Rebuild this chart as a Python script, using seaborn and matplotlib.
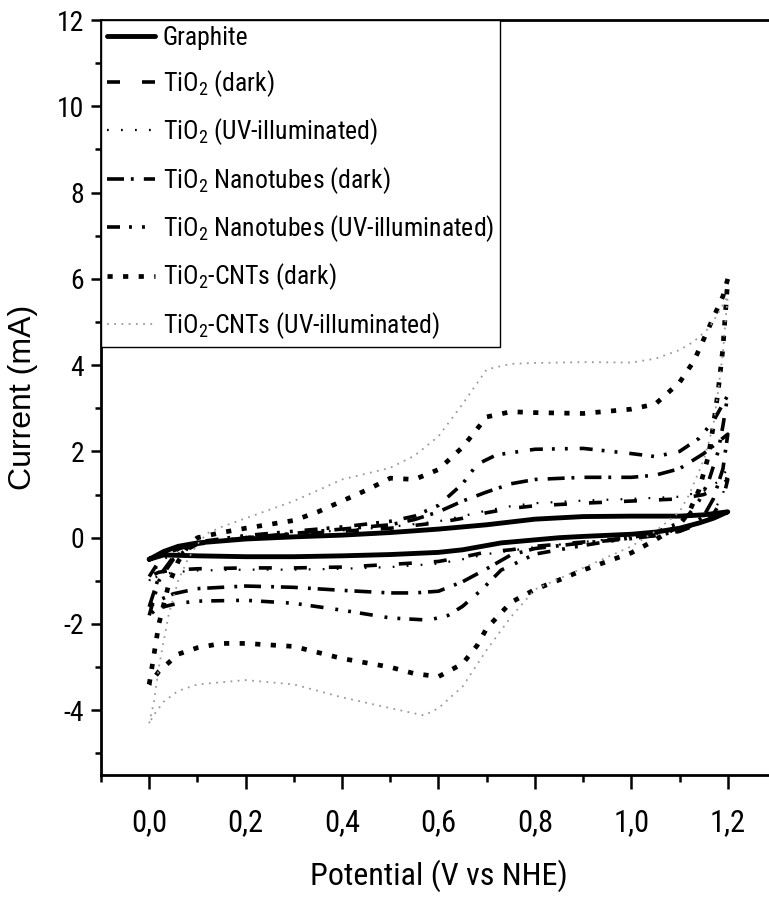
import numpy as np
import pandas as pd
import matplotlib
matplotlib.use("Agg")
import matplotlib.pyplot as plt
from matplotlib import font_manager as fm
from matplotlib.ticker import MultipleLocator, FixedLocator
import seaborn as sns

# ---------------- data ----------------
series_names = [
    "Graphite",
    "TiO$_2$ (dark)",
    "TiO$_2$ (UV-illuminated)",
    "TiO$_2$ Nanotubes (dark)",
    "TiO$_2$ Nanotubes (UV-illuminated)",
    "TiO$_2$-CNTs (dark)",
    "TiO$_2$-CNTs (UV-illuminated)",
]

graphite_v = [0.0, 0.03, 0.06, 0.1, 0.2, 0.3, 0.4, 0.5, 0.6, 0.7, 0.8, 0.9, 1.0, 1.1, 1.15, 1.2,
              1.17, 1.14, 1.1, 1.05, 1.0, 0.9, 0.85, 0.8, 0.73, 0.65, 0.6, 0.5, 0.4, 0.3, 0.2, 0.1, 0.03, 0.0]
graphite_i = [-0.5, -0.32, -0.2, -0.12, -0.03, 0.02, 0.06, 0.12, 0.2, 0.3, 0.43, 0.49, 0.5, 0.5, 0.53, 0.6,
              0.45, 0.34, 0.22, 0.13, 0.08, 0.03, 0.0, -0.05, -0.12, -0.28, -0.34, -0.39, -0.42, -0.44, -0.44, -0.42, -0.4, -0.5]

tio2_dark_v = [0.0, 0.02, 0.05, 0.1, 0.2, 0.3, 0.4, 0.5, 0.6, 0.65, 0.7, 0.75, 0.8, 0.9, 1.0, 1.1, 1.15, 1.18, 1.2,
               1.19, 1.17, 1.15, 1.1, 1.05, 1.0, 0.9, 0.8, 0.75, 0.7, 0.65, 0.6, 0.5, 0.4, 0.3, 0.2, 0.1, 0.05, 0.02, 0.0]
tio2_dark_i = [-0.9, -0.55, -0.3, -0.12, 0.0, 0.08, 0.15, 0.22, 0.35, 0.45, 0.58, 0.68, 0.74, 0.8, 0.85, 0.9, 1.0, 1.15, 1.35,
               0.9, 0.55, 0.35, 0.15, 0.05, 0.0, -0.1, -0.2, -0.28, -0.33, -0.45, -0.55, -0.62, -0.68, -0.7, -0.7, -0.72, -0.75, -0.8, -0.9]

tio2_uv_v = [0.0, 0.02, 0.05, 0.1, 0.2, 0.3, 0.4, 0.5, 0.6, 0.65, 0.7, 0.75, 0.8, 0.9, 1.0, 1.1, 1.15, 1.18, 1.2,
             1.19, 1.17, 1.15, 1.1, 1.05, 1.0, 0.9, 0.8, 0.75, 0.7, 0.65, 0.6, 0.5, 0.4, 0.3, 0.2, 0.1, 0.05, 0.02, 0.0]
tio2_uv_i = [-1.0, -0.6, -0.33, -0.13, 0.02, 0.1, 0.17, 0.25, 0.38, 0.5, 0.63, 0.73, 0.8, 0.86, 0.9, 0.95, 1.08, 1.3, 1.6,
             1.0, 0.6, 0.4, 0.18, 0.07, 0.02, -0.1, -0.22, -0.3, -0.38, -0.5, -0.6, -0.68, -0.72, -0.74, -0.74, -0.76, -0.8, -0.88, -1.0]

nt_dark_v = [0.0, 0.02, 0.05, 0.1, 0.2, 0.3, 0.4, 0.5, 0.55, 0.6, 0.65, 0.7, 0.75, 0.8, 0.9, 1.0, 1.05, 1.1, 1.15, 1.2,
             1.19, 1.17, 1.15, 1.12, 1.1, 1.05, 1.0, 0.9, 0.8, 0.75, 0.7, 0.65, 0.6, 0.55, 0.5, 0.4, 0.3, 0.2, 0.1, 0.05, 0.02, 0.0]
nt_dark_i = [-1.6, -0.9, -0.45, -0.15, 0.0, 0.1, 0.2, 0.3, 0.42, 0.6, 0.85, 1.06, 1.25, 1.35, 1.4, 1.4, 1.45, 1.6, 1.95, 2.4,
             1.6, 0.9, 0.5, 0.25, 0.15, 0.05, -0.02, -0.12, -0.25, -0.4, -0.72, -1.02, -1.24, -1.28, -1.28, -1.22, -1.15, -1.12, -1.18, -1.3, -1.45, -1.6]

nt_uv_v = [0.0, 0.02, 0.05, 0.1, 0.2, 0.3, 0.4, 0.5, 0.55, 0.6, 0.65, 0.68, 0.72, 0.8, 0.9, 1.0, 1.05, 1.1, 1.14, 1.17, 1.2,
           1.19, 1.18, 1.16, 1.14, 1.12, 1.1, 1.05, 1.0, 0.9, 0.8, 0.73, 0.69, 0.65, 0.62, 0.58, 0.5, 0.4, 0.3, 0.2, 0.1, 0.06, 0.03, 0.01, 0.0]
nt_uv_i = [-1.8, -1.0, -0.5, -0.1, 0.05, 0.15, 0.25, 0.38, 0.5, 0.75, 1.25, 1.7, 1.92, 2.05, 2.07, 1.95, 1.88, 2.0, 2.3, 2.7, 3.3,
           2.6, 2.0, 1.3, 0.85, 0.55, 0.35, 0.12, 0.0, -0.18, -0.38, -0.75, -1.2, -1.59, -1.8, -1.91, -1.86, -1.68, -1.52, -1.45, -1.47, -1.52, -1.6, -1.7, -1.8]

cnt_dark_v = [0.0, 0.01, 0.02, 0.04, 0.06, 0.08, 0.1, 0.15, 0.2, 0.3, 0.35, 0.4, 0.45, 0.5, 0.55, 0.6, 0.65, 0.7, 0.75, 0.8, 0.9, 1.0,
              1.05, 1.1, 1.13, 1.15, 1.17, 1.19, 1.2,
              1.197, 1.193, 1.19, 1.185, 1.18, 1.17, 1.16, 1.14, 1.12, 1.1, 1.05, 1.0, 0.95, 0.9, 0.85, 0.8, 0.75, 0.7, 0.68, 0.65,
              0.6, 0.55, 0.5, 0.4, 0.3, 0.2, 0.15, 0.1, 0.06, 0.04, 0.02, 0.0]
cnt_dark_i = [-3.4, -2.7, -2.0, -1.1, -0.55, -0.2, 0.0, 0.12, 0.22, 0.4, 0.6, 0.85, 1.1, 1.38, 1.35, 1.58, 2.1, 2.8, 2.92, 2.9, 2.88, 2.98,
              3.1, 3.6, 4.1, 4.6, 5.1, 5.6, 6.0,
              5.5, 4.9, 4.4, 3.9, 3.4, 2.6, 1.9, 1.1, 0.6, 0.3, -0.05, -0.35, -0.55, -0.75, -0.98, -1.2, -1.5, -2.1, -2.5, -2.92,
              -3.22, -3.15, -3.0, -2.8, -2.52, -2.45, -2.45, -2.55, -2.7, -2.9, -3.1, -3.4]

cnt_uv_v = [0.0, 0.01, 0.02, 0.04, 0.06, 0.08, 0.1, 0.12, 0.15, 0.2, 0.3, 0.4, 0.5, 0.55, 0.6, 0.65, 0.7, 0.75, 0.8, 0.9, 1.0,
            1.05, 1.1, 1.13, 1.16, 1.18, 1.2,
            1.195, 1.19, 1.18, 1.17, 1.15, 1.12, 1.1, 1.05, 1.0, 0.95, 0.92, 0.85, 0.8, 0.75, 0.7, 0.65, 0.6, 0.57, 0.5, 0.4,
            0.3, 0.2, 0.1, 0.06, 0.03, 0.01, 0.0]
cnt_uv_i = [-4.3, -3.8, -3.0, -1.8, -1.0, -0.5, -0.15, 0.1, 0.25, 0.45, 0.85, 1.35, 1.62, 1.9, 2.35, 3.1, 3.9, 4.03, 4.05, 4.07, 4.06,
            4.15, 4.35, 4.55, 4.85, 5.2, 5.6,
            5.0, 4.3, 3.4, 2.6, 1.8, 1.0, 0.6, 0.15, -0.2, -0.45, -0.6, -0.95, -1.2, -1.84, -2.6, -3.45, -3.95, -4.12, -3.95, -3.7,
            -3.4, -3.3, -3.4, -3.55, -3.8, -4.1, -4.3]

x_ticks = [0.0, 0.2, 0.4, 0.6, 0.8, 1.0, 1.2]
x_ticklabels = ["0,0", "0,2", "0,4", "0,6", "0,8", "1,0", "1,2"]
y_ticks = [-4, -2, 0, 2, 4, 6, 8, 10, 12]
y_ticklabels = ["-4", "-2", "0", "2", "4", "6", "8", "10", "12"]

# ---------------- fonts ----------------
sns.set_theme(style="ticks")


def _find_narrow():
    entries = fm.fontManager.ttflist
    def ok(e):
        return e.style == "normal" and (e.weight in ("normal", "regular", 400, "book", "medium") or e.weight == 400)
    for nm in ["Liberation Sans Narrow", "Arial Narrow", "Roboto Condensed", "Open Sans Condensed",
               "Noto Sans Condensed", "DejaVu Sans Condensed"]:
        for e in entries:
            if e.name == nm and ok(e):
                return e.name, e.stretch
    for nm in ["Noto Sans", "Open Sans", "DejaVu Sans", "Roboto"]:
        for st in ["condensed", 75, "semi-condensed", 87]:
            for e in entries:
                if e.name == nm and e.stretch == st and ok(e):
                    return e.name, e.stretch
    return None, None


NARROW_NAME, NARROW_STRETCH = _find_narrow()
if NARROW_NAME is None:
    NARROW_NAME, NARROW_STRETCH = "Liberation Sans", "normal"
    SCALE = 0.84
else:
    SCALE = 1.0

NARROW = [NARROW_NAME, "DejaVu Sans"]
REG = ["Liberation Sans", "DejaVu Sans"]
plt.rcParams["font.family"] = NARROW
plt.rcParams["font.stretch"] = NARROW_STRETCH
plt.rcParams["mathtext.fontset"] = "custom"
plt.rcParams["mathtext.rm"] = f"{NARROW_NAME}:stretch={NARROW_STRETCH}"
plt.rcParams["mathtext.it"] = f"{NARROW_NAME}:stretch={NARROW_STRETCH}"
plt.rcParams["mathtext.default"] = "regular"
for k in ["text.color", "axes.labelcolor", "xtick.color", "ytick.color", "axes.edgecolor"]:
    plt.rcParams[k] = "black"

narrow_fp = lambda size: fm.FontProperties(family=NARROW, stretch=NARROW_STRETCH, size=size)

styles = [
    dict(color="black", linewidth=3.5, linestyle="-"),
    dict(color="black", linewidth=2.6, linestyle=(0, (3.6, 6.1))),
    dict(color="black", linewidth=1.6, linestyle=(0, (0.8, 5.5))),
    dict(color="black", linewidth=2.6, linestyle=(0, (4.7, 1.9, 0.8, 2.8))),
    dict(color="black", linewidth=2.6, linestyle=(0, (3.6, 2.5, 0.8, 2.8, 0.8, 3.3))),
    dict(color="black", linewidth=3.4, linestyle=(0, (1.1, 2.2))),
    dict(color="#9a9a9a", linewidth=1.3, linestyle=(0, (1.0, 3.0))),
]

data_v = [graphite_v, tio2_dark_v, tio2_uv_v, nt_dark_v, nt_uv_v, cnt_dark_v, cnt_uv_v]
data_i = [graphite_i, tio2_dark_i, tio2_uv_i, nt_dark_i, nt_uv_i, cnt_dark_i, cnt_uv_i]

fig = plt.figure(figsize=(7.69, 8.99), dpi=100)
ax = fig.add_axes([101 / 769, (899 - 775) / 899, 675 / 769, 755 / 899])

for name, v, i, st in zip(series_names, data_v, data_i, styles):
    df = pd.DataFrame({"V": v, "I": i})
    sns.lineplot(data=df, x="V", y="I", sort=False, estimator=None, ax=ax,
                 label=name, **st)

ax.set_xlim(-0.1, 1.3)
ax.set_ylim(-5.5, 12)

ax.xaxis.set_major_locator(FixedLocator(x_ticks))
ax.set_xticklabels(x_ticklabels, fontproperties=narrow_fp(22 * SCALE))
ax.xaxis.set_minor_locator(MultipleLocator(0.1))
ax.yaxis.set_major_locator(FixedLocator(y_ticks))
ax.set_yticklabels(y_ticklabels, fontproperties=narrow_fp(20 * SCALE))
ax.yaxis.set_minor_locator(MultipleLocator(1))

ax.tick_params(axis="x", which="major", direction="out", length=10, width=1.8, pad=14)
ax.tick_params(axis="x", which="minor", direction="out", length=5, width=1.8)
ax.tick_params(axis="y", which="major", direction="out", length=7, width=1.8, pad=5)
ax.tick_params(axis="y", which="minor", direction="out", length=4, width=1.8)

for side in ["left", "bottom", "top"]:
    ax.spines[side].set_linewidth(2.0)
    ax.spines[side].set_color("black")
ax.spines["right"].set_visible(False)

ax.set_xlabel("Potential (V vs NHE)", fontproperties=narrow_fp(23 * SCALE), labelpad=16)
ax.set_ylabel("Current (mA)", fontsize=23, family=REG, labelpad=14)

leg = ax.legend(loc="upper left", bbox_to_anchor=(0, 1), borderaxespad=0,
                frameon=True, fancybox=False, framealpha=1, edgecolor="black",
                prop=narrow_fp(18.5 * SCALE), handlelength=1.85,
                handletextpad=0.3, labelspacing=0.68, borderpad=0.25)
leg.get_frame().set_linewidth(1.0)

fig.savefig("out.png", dpi=100)
